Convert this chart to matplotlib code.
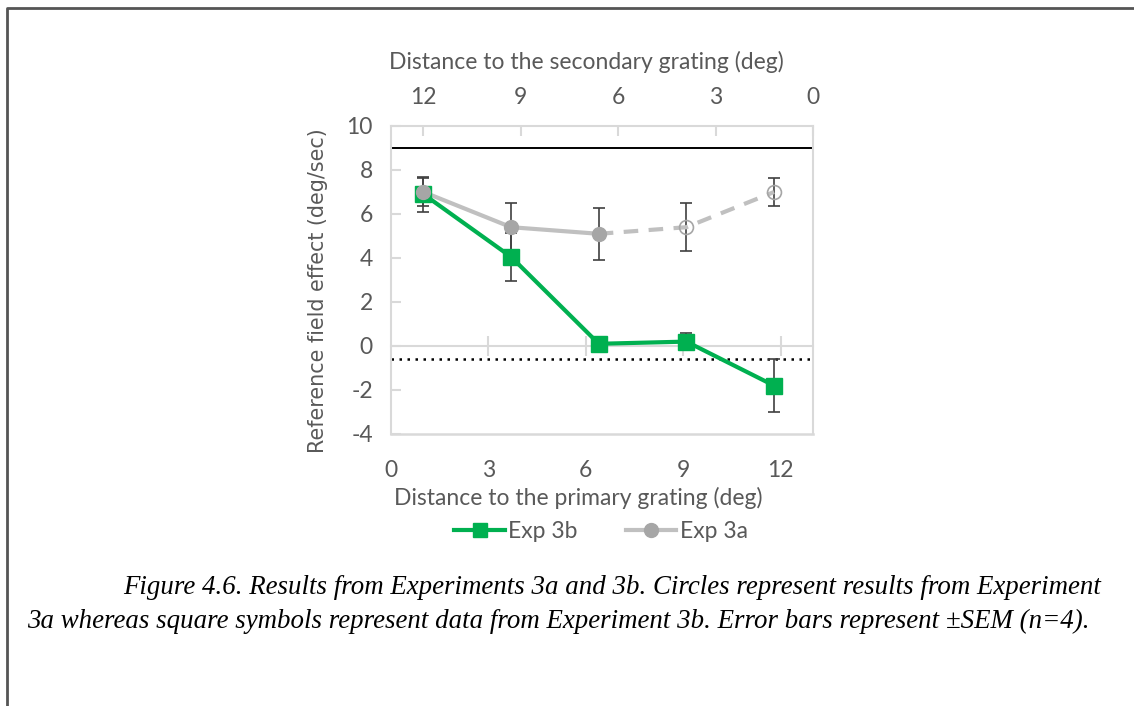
import matplotlib
matplotlib.use("Agg")
import matplotlib.pyplot as plt
from matplotlib.lines import Line2D

plt.rcParams["axes.unicode_minus"] = False

# Distance to the primary grating (deg) for each tested position
distance_primary = [1.0, 3.7, 6.4, 9.1, 11.8]

# Experiment 3b (squares)
exp3b_mean = [6.9, 4.05, 0.1, 0.2, -1.8]
exp3b_sem = [0.8, 1.1, 0.1, 0.4, 1.2]

# Experiment 3a (circles); last two positions are extrapolated (open symbols)
exp3a_mean = [7.0, 5.4, 5.1, 5.4, 7.0]
exp3a_sem = [0.65, 1.1, 1.18, 1.1, 0.62]

# Reference levels
upper_reference = 9.0
lower_reference = -0.6

x_max = 13
x_ticks = [0, 3, 6, 9, 12]
top_ticks = [12, 9, 6, 3, 0]
y_ticks = [-4, -2, 0, 2, 4, 6, 8, 10]

GREEN = "#00b050"
GRAY_LINE = "#c0c0c0"
GRAY_MARK = "#a6a6a6"
FRAME = "#d9d9d9"
TEXT = "#595959"
ERR = "#404040"
CHART_FONT = "Lato"
FS = 16.5

fig = plt.figure(figsize=(11.34, 7.06), dpi=100)
fig.patch.set_facecolor("white")

ax = fig.add_axes([391 / 1134, 1 - 434 / 706, 422 / 1134, 308 / 706])
ax.set_xlim(0, x_max)
ax.set_ylim(-4, 10)

# Reference lines
ax.axhline(upper_reference, color="black", lw=1.4, zorder=2)
ax.axhline(lower_reference, color="black", lw=1.8, ls=(0, (1, 2.2)), zorder=2)

# Error bars behind the markers
ax.errorbar(distance_primary, exp3b_mean, yerr=exp3b_sem, fmt="none",
            ecolor=ERR, elinewidth=1.2, capsize=4, capthick=1.2, zorder=3)
ax.errorbar(distance_primary, exp3a_mean, yerr=exp3a_sem, fmt="none",
            ecolor=ERR, elinewidth=1.2, capsize=4, capthick=1.2, zorder=3)

# Exp 3a: solid over measured part, dashed over extrapolated part
ax.plot(distance_primary[:3], exp3a_mean[:3], color=GRAY_LINE, lw=3, zorder=4,
        solid_capstyle="round")
ax.plot(distance_primary[2:], exp3a_mean[2:], color=GRAY_LINE, lw=3,
        ls=(0, (3.5, 2.5)), zorder=4)
ax.plot(distance_primary[:3], exp3a_mean[:3], ls="none", marker="o", ms=10,
        mfc=GRAY_MARK, mec=GRAY_MARK, zorder=6)
ax.plot(distance_primary[3:], exp3a_mean[3:], ls="none", marker="o", ms=10,
        mfc="none", mec=GRAY_MARK, mew=1.2, zorder=6)

# Exp 3b
ax.plot(distance_primary, exp3b_mean, color=GREEN, lw=3, marker="s", ms=11,
        mfc=GREEN, mec=GREEN, zorder=5)

# Frame
for side in ("left", "right", "top"):
    ax.spines[side].set_color(FRAME)
    ax.spines[side].set_linewidth(1.5)
# Horizontal axis crosses at zero
ax.spines["bottom"].set_position(("data", 0))
ax.spines["bottom"].set_color(FRAME)
ax.spines["bottom"].set_linewidth(1.5)
ax.axhline(-4, color=FRAME, lw=1.8, zorder=1, clip_on=False)

ax.set_xticks(x_ticks[1:])
ax.tick_params(axis="x", which="both", direction="inout", length=14, width=1.5,
               color=FRAME, labelbottom=False, top=False)
ax.set_yticks(y_ticks)
ax.tick_params(axis="y", direction="in", length=7, width=1.5, color=FRAME,
               labelcolor=TEXT, labelsize=FS, pad=13)
for lab in ax.get_yticklabels():
    lab.set_fontfamily(CHART_FONT)

# Bottom labels at the frame edge
bottom = ax.secondary_xaxis(0.0)
bottom.set_xticks(x_ticks)
bottom.tick_params(length=0, pad=19, labelsize=FS, labelcolor=TEXT)
for lab in bottom.get_xticklabels():
    lab.set_fontfamily(CHART_FONT)
bottom.spines["bottom"].set_visible(False)
bottom.set_xlabel("Distance to the primary grating (deg)", fontsize=FS,
                  color=TEXT, family=CHART_FONT)
bottom.xaxis.set_label_coords(0.443, -0.208, transform=ax.transAxes)
bottom.xaxis.label.set_va("center")

# Top axis: distance to the secondary grating
top = ax.secondary_xaxis("top", functions=(lambda v: x_max - v,
                                           lambda v: x_max - v))
top.set_xticks(top_ticks)
top.tick_params(direction="in", length=7, width=1.5, color=FRAME, pad=13,
                labelsize=FS, labelcolor=TEXT)
for lab in top.get_xticklabels():
    lab.set_fontfamily(CHART_FONT)
top.spines["top"].set_visible(False)
top.set_xlabel("Distance to the secondary grating (deg)", fontsize=FS,
               color=TEXT, family=CHART_FONT)
top.xaxis.set_label_coords(0.462, 1.208, transform=ax.transAxes)
top.xaxis.label.set_va("center")

ax.set_ylabel("Reference field effect (deg/sec)", fontsize=14.9, color=TEXT,
              family="DejaVu Sans")
ax.yaxis.set_label_coords(-0.149, 0.464)

# Legend
handles = [
    Line2D([], [], color=GREEN, lw=3, marker="s", ms=10, mfc=GREEN, mec=GREEN),
    Line2D([], [], color=GRAY_LINE, lw=3, marker="o", ms=10, mfc=GRAY_MARK,
           mec=GRAY_MARK),
]
leg = fig.legend(handles, ["Exp 3b", "Exp 3a"], loc="center",
                 bbox_to_anchor=(601 / 1134, 1 - 532 / 706), ncol=2,
                 frameon=False, handlelength=2.2, handletextpad=0.15,
                 columnspacing=2.1, prop={"family": CHART_FONT, "size": FS})
for t in leg.get_texts():
    t.set_color(TEXT)

# Caption
cap_kw = dict(fontsize=19.4, family="Liberation Serif", style="italic",
              color="black", va="center")
fig.text(123 / 1134, 1 - 587 / 706,
         "Figure 4.6. Results from Experiments 3a and 3b. Circles represent "
         "results from Experiment", ha="left", **cap_kw)
fig.text(27 / 1134, 1 - 621 / 706,
         "3a whereas square symbols represent data from Experiment 3b. "
         "Error bars represent \u00b1SEM (n=4).", ha="left", **cap_kw)

# Page border
fig.add_artist(Line2D([7 / 1134, 7 / 1134, 1.0],
                      [0.0, 1 - 8 / 706, 1 - 8 / 706],
                      transform=fig.transFigure, color="#555555", lw=2))

fig.savefig("out.png", dpi=100, facecolor="white")
